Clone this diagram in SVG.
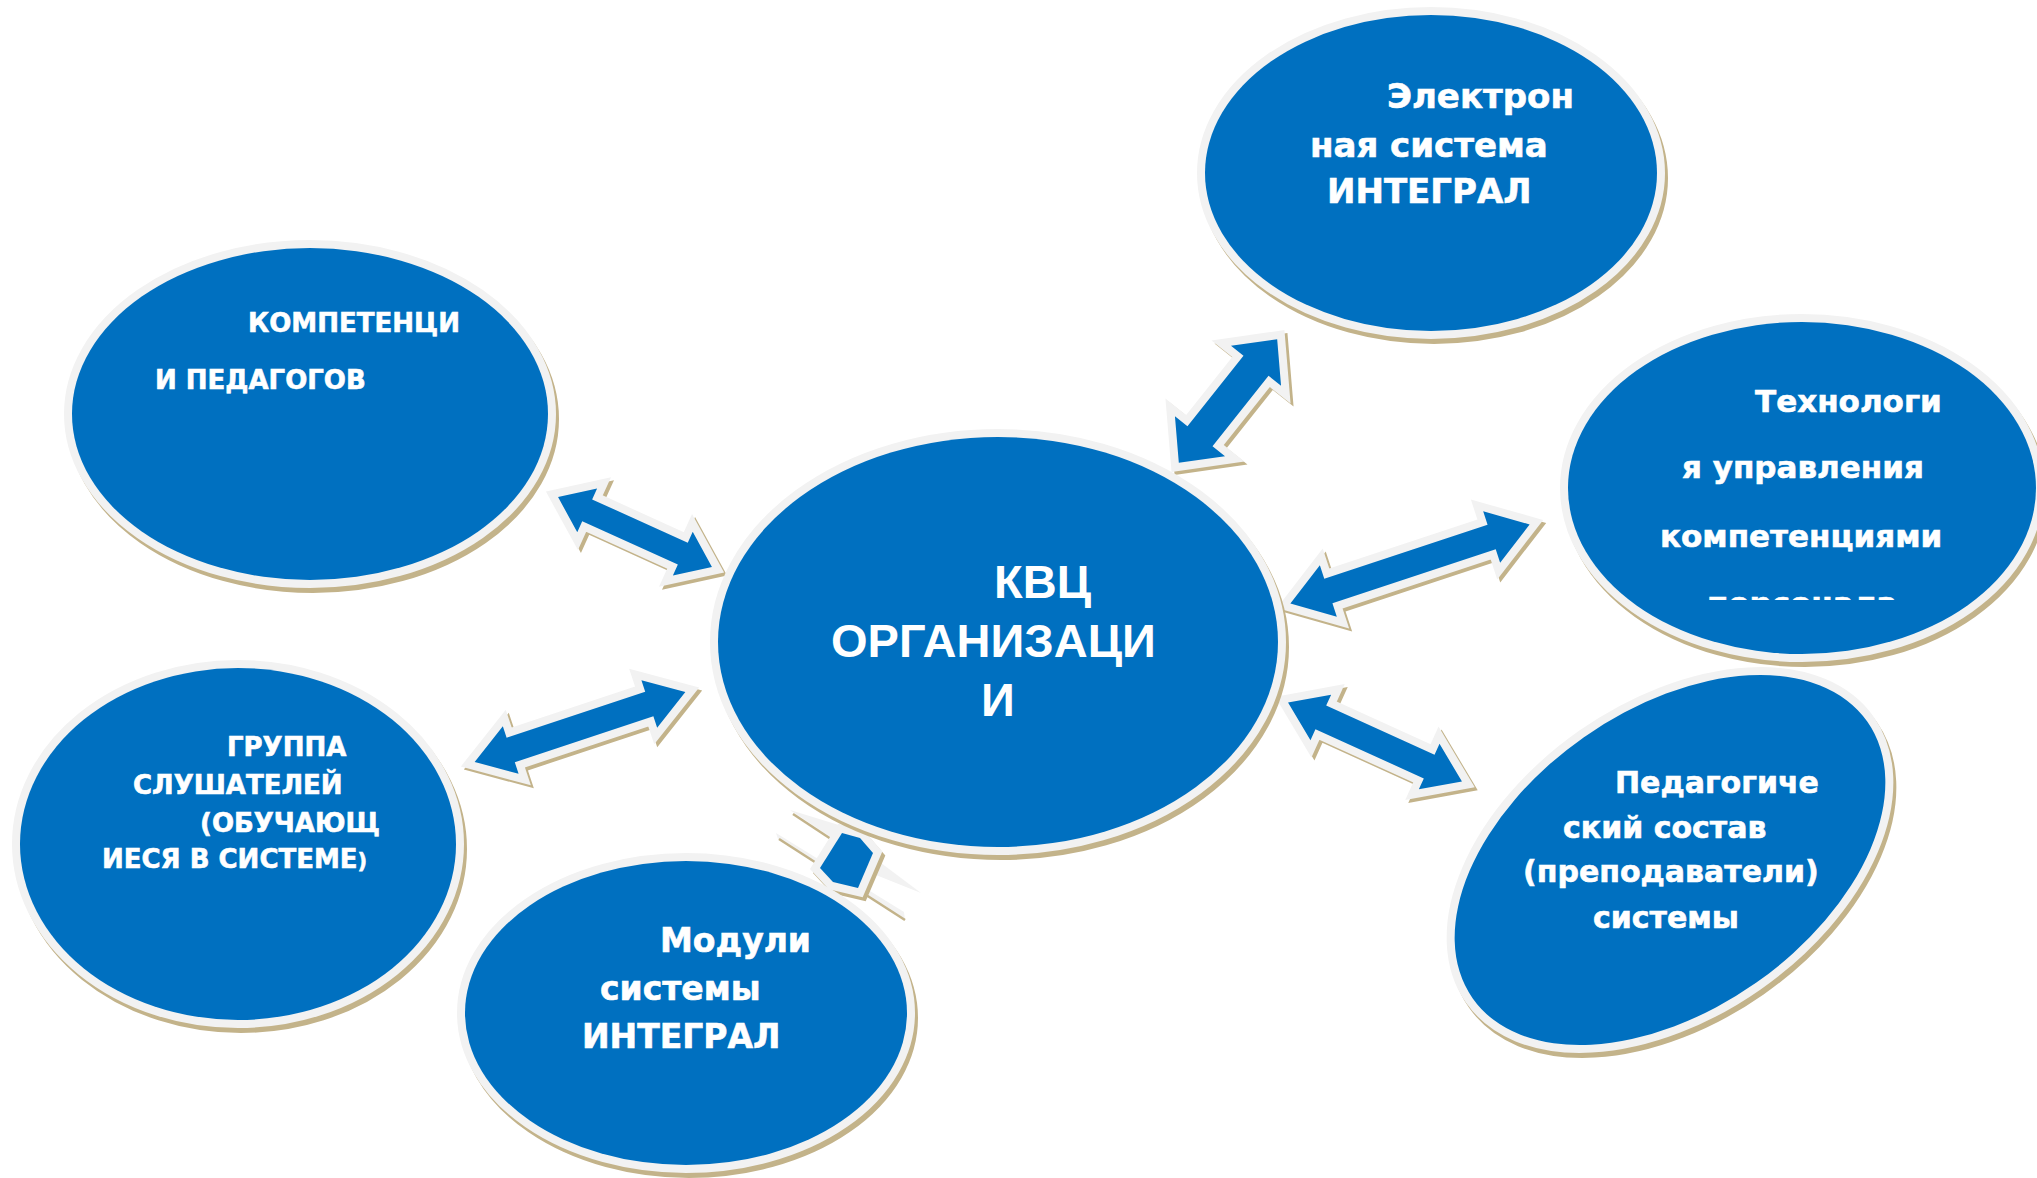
<svg xmlns="http://www.w3.org/2000/svg" width="2037" height="1178" viewBox="0 0 2037 1178">
<defs>
<style>
.sh{fill:#c3b38a;stroke:#c3b38a;stroke-width:16;stroke-linejoin:miter;stroke-miterlimit:4}
.nd{fill:#0070c0;stroke:#f2f2f2;stroke-width:16;paint-order:stroke;stroke-linejoin:miter;stroke-miterlimit:4}
.t{fill:#ffffff;stroke:#ffffff;stroke-width:0.6;font-family:"DejaVu Sans","Liberation Sans",sans-serif;font-weight:bold}
.tc{fill:#ffffff;font-family:"Liberation Sans",Arial,sans-serif;font-weight:bold;font-size:47px}
.gw{fill:#f2f2f2}
.bl{fill:none;stroke:#c3b38a;stroke-width:2.5}
</style>
<clipPath id="clipTech"><rect x="1500" y="300" width="537" height="300"/></clipPath>
</defs>
<rect width="2037" height="1178" fill="#ffffff"/>
<g id="connectors">
  <g id="arrow-kompetencii">
    <path class="sh" transform="translate(638,535) rotate(24.4)" d="M-84.5 0L-52.5 -24L-52.5 -12L52.5 -12L52.5 -24L84.5 0L52.5 24L52.5 12L-52.5 12L-52.5 24Z"/>
    <path class="nd" transform="translate(635,532) rotate(24.4)" d="M-84.5 0L-52.5 -24L-52.5 -12L52.5 -12L52.5 -24L84.5 0L52.5 24L52.5 12L-52.5 12L-52.5 24Z"/>
  </g>
  <g id="arrow-elektron">
    <path class="sh" transform="translate(1231,404) rotate(-51.5)" d="M-79 0L-45 -32L-45 -16L45 -16L45 -32L79 0L45 32L45 16L-45 16L-45 32Z"/>
    <path class="nd" transform="translate(1228,401) rotate(-51.5)" d="M-79 0L-45 -32L-45 -16L45 -16L45 -32L79 0L45 32L45 16L-45 16L-45 32Z"/>
  </g>
  <g id="arrow-tech">
    <path class="sh" transform="translate(1413,567) rotate(-18.3)" d="M-126 0L-86 -27L-86 -13L86 -13L86 -27L126 0L86 27L86 13L-86 13L-86 27Z"/>
    <path class="nd" transform="translate(1410,564) rotate(-18.3)" d="M-126 0L-86 -27L-86 -13L86 -13L86 -27L126 0L86 27L86 13L-86 13L-86 27Z"/>
  </g>
  <g id="arrow-ped">
    <path class="sh" transform="translate(1378,745) rotate(24.4)" d="M-95.5 0L-59.5 -25L-59.5 -13L59.5 -13L59.5 -25L95.5 0L59.5 25L59.5 13L-59.5 13L-59.5 25Z"/>
    <path class="nd" transform="translate(1375,742) rotate(24.4)" d="M-95.5 0L-59.5 -25L-59.5 -13L59.5 -13L59.5 -25L95.5 0L59.5 25L59.5 13L-59.5 13L-59.5 25Z"/>
  </g>
  <g id="arrow-group">
    <path class="sh" transform="translate(583,730) rotate(-18.35)" d="M-111 0L-73 -25L-73 -13L73 -13L73 -25L111 0L73 25L73 13L-73 13L-73 25Z"/>
    <path class="nd" transform="translate(580,727) rotate(-18.35)" d="M-111 0L-73 -25L-73 -13L73 -13L73 -25L111 0L73 25L73 13L-73 13L-73 25Z"/>
  </g>
  <g id="arrow-modules">
    <polygon class="gw" points="790,810 842,826 838,842"/>
    <line class="bl" x1="793" y1="814" x2="834" y2="841"/>
    <polygon class="gw" points="776,833 904,912 905,920 778,839"/>
    <line class="bl" x1="779" y1="839" x2="905" y2="920"/>
    <polygon class="gw" points="877,860 921,893 871,873"/>
    <line class="bl" x1="878" y1="866" x2="866" y2="889"/>
    <polygon class="sh" transform="translate(3,4)" points="842,833 860,838 873,853 858,888 833,882 820,868"/>
    <polygon class="nd" points="842,833 860,838 873,853 858,888 833,882 820,868"/>
  </g>
</g>
<g id="nodes">
  <g id="node-elektron">
    <ellipse class="sh" cx="1434" cy="178" rx="226" ry="158"/>
    <ellipse class="nd" cx="1431" cy="173" rx="226" ry="158"/>
    <text class="t" font-size="34"><tspan x="1387" y="108">Электрон</tspan><tspan x="1310" y="157">ная система</tspan><tspan x="1327" y="203">ИНТЕГРАЛ</tspan></text>
  </g>
  <g id="node-tech">
    <ellipse class="sh" cx="1805" cy="493" rx="234" ry="166"/>
    <ellipse class="nd" cx="1802" cy="488" rx="234" ry="166"/>
    <text class="t" font-size="31"><tspan x="1755" y="412">Технологи</tspan><tspan x="1682" y="478">я управления</tspan><tspan x="1660" y="547">компетенциями</tspan></text>
    <text class="t" font-size="31" clip-path="url(#clipTech)" x="1707" y="614">персонала</text>
  </g>
  <g id="node-kompetencii">
    <ellipse class="sh" cx="313" cy="419" rx="238" ry="166"/>
    <ellipse class="nd" cx="310" cy="414" rx="238" ry="166"/>
    <text class="t" font-size="26"><tspan x="248" y="332">КОМПЕТЕНЦИ</tspan><tspan x="155" y="389">И ПЕДАГОГОВ</tspan></text>
  </g>
  <g id="node-group">
    <ellipse class="sh" cx="241" cy="849" rx="218" ry="176"/>
    <ellipse class="nd" cx="238" cy="844" rx="218" ry="176"/>
    <text class="t" font-size="26"><tspan x="227" y="756">ГРУППА</tspan><tspan x="133" y="794">СЛУШАТЕЛЕЙ</tspan><tspan x="200" y="832">(ОБУЧАЮЩ</tspan><tspan x="102" y="868">ИЕСЯ В СИСТЕМЕ</tspan><tspan font-size="21">)</tspan></text>
  </g>
  <g id="node-modules">
    <ellipse class="sh" cx="689" cy="1018" rx="221" ry="152"/>
    <ellipse class="nd" cx="686" cy="1013" rx="221" ry="152"/>
    <text class="t" font-size="33"><tspan x="660" y="952">Модули</tspan><tspan x="600" y="1000">системы</tspan><tspan x="582" y="1048">ИНТЕГРАЛ</tspan></text>
  </g>
  <g id="node-ped">
    <ellipse class="sh" transform="translate(1673,865) rotate(-35)" cx="0" cy="0" rx="241" ry="150"/>
    <ellipse class="nd" transform="translate(1670,860) rotate(-35)" cx="0" cy="0" rx="241" ry="150"/>
    <text class="t" font-size="30"><tspan x="1615" y="793">Педагогиче</tspan><tspan x="1563" y="838">ский состав</tspan><tspan x="1523" y="882">(преподаватели)</tspan><tspan x="1593" y="928">системы</tspan></text>
  </g>
  <g id="node-center">
    <ellipse class="sh" cx="1001" cy="647" rx="280" ry="205"/>
    <ellipse class="nd" cx="998" cy="642" rx="280" ry="205"/>
    <text class="tc"><tspan x="994" y="598">КВЦ</tspan><tspan x="831" y="657">ОРГАНИЗАЦИ</tspan><tspan x="981" y="716">И</tspan></text>
  </g>
</g>
</svg>
